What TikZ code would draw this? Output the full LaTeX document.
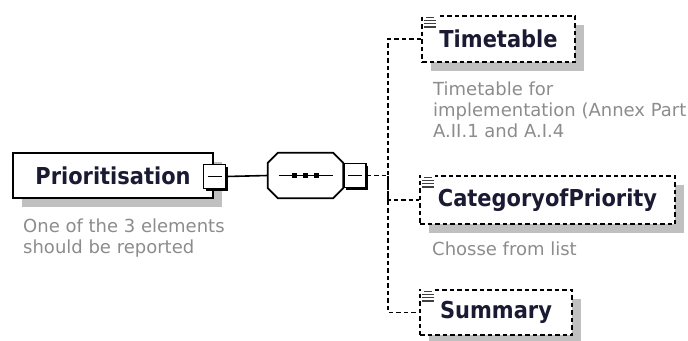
\documentclass[tikz,border=0pt]{standalone}
\usepackage{fontspec}
\setmainfont{DejaVu Sans}
\newfontfamily\elemfont{DejaVu Sans}[FakeStretch=0.9]
\newfontfamily\descfam{DejaVu Sans}
\definecolor{txtc}{HTML}{1A1A33}
\definecolor{descc}{HTML}{8C8C8C}
\definecolor{shadc}{HTML}{C0C0C0}
\begin{document}
\begin{tikzpicture}[x=1pt,y=-1pt,
  shadowed/.style={preaction={draw=none,fill=shadc,transform canvas={shift={(9pt,-9pt)}}}},
  elem/.style={shadowed,draw=black,line width=1.8pt,fill=white,inner sep=0pt,
    font=\elemfont\bfseries\fontsize{23.3}{26}\selectfont,text=txtc},
  optelem/.style={elem,dash pattern=on 4.5pt off 3pt},
  minusbox/.style={draw=black,line width=1.8pt,fill=white,inner sep=0pt,
    minimum width=22pt,minimum height=24pt,
    preaction={draw=none,fill=black,transform canvas={shift={(2pt,-2pt)}}},
    path picture={\draw[line width=1.2pt]([xshift=4pt]path picture bounding box.west)--([xshift=-4pt]path picture bounding box.east);}},
  desc/.style={anchor=north west,inner sep=0pt,align=left,
    font=\descfam\fontsize{18}{21}\selectfont,text=descc},
  conn/.style={line width=1.6pt,draw=black},
  dconn/.style={conn,dash pattern=on 4.5pt off 3pt},
  octo/.style={line width=1.8pt,draw=black,fill=white,line join=miter},
]
\useasboundingbox (0,0) rectangle (688,340);

% root element
\node[elem,minimum width=200pt,minimum height=45pt] (prio) at (113,175.5) {Prioritisation};
\node[minusbox] (pm) at (214.5,176.5) {};
\node[desc] (pd) at (23,219) {One of the 3 elements\\should be reported};

% sequence compositor (octagon)
\node[inner sep=0pt,minimum width=75pt,minimum height=45pt] (seq) at (305.5,175.5) {};
\fill[shadc,shift={(9,9)}] ([xshift=10pt]seq.north west) -- ([xshift=-10pt]seq.north east)
  -- ([yshift=-10pt]seq.north east) -- ([yshift=10pt]seq.south east)
  -- ([xshift=-10pt]seq.south east) -- ([xshift=10pt]seq.south west)
  -- ([yshift=10pt]seq.south west) -- ([yshift=-10pt]seq.north west) -- cycle;
\draw[octo] ([xshift=10pt]seq.north west) -- ([xshift=-10pt]seq.north east)
  -- ([yshift=-10pt]seq.north east) -- ([yshift=10pt]seq.south east)
  -- ([xshift=-10pt]seq.south east) -- ([xshift=10pt]seq.south west)
  -- ([yshift=10pt]seq.south west) -- ([yshift=-10pt]seq.north west) -- cycle;
\draw[line width=1.4pt] ([xshift=-27pt]seq.center) -- ([xshift=27pt]seq.center);
\foreach \dx in {-11,0,11}
  \fill ([xshift=\dx pt]seq.center) ++(-2.8,-2.8) rectangle ++(5.6,5.6);
\node[minusbox] (sm) at (355,175.5) {};

% children
\node[optelem,minimum width=153pt,minimum height=46pt] (tt) at (498.5,39) {Timetable};
\node[desc] (ttd) at (433,82) {Timetable for\\implementation (Annex Part\\A.II.1 and A.I.4};
\node[optelem,minimum width=255pt,minimum height=48pt] (cat) at (547.5,200) {CategoryofPriority};
\node[desc] (catd) at (432,242) {Chosse from list};
\node[optelem,minimum width=152pt,minimum height=45pt] (sum) at (496,312.5) {Summary};

% icons
\foreach \n in {tt,cat,sum}{
  \fill[white] ([shift={(1.5,-1)}]\n.north west) rectangle ++(14,15);
  \draw[line width=1.2pt,black!75] ([shift={(5,2)}]\n.north west) -- ++(8,0);
  \foreach \k in {1,2,3}
    \draw[line width=1.2pt,black!75] ([shift={(3,2+3.3*\k)}]\n.north west) -- ++(12,0);
}

% connectors
\coordinate (J) at (388,175.5);
\draw[conn] (pm.east) -- (seq.west);
\draw[dconn] (sm.east) -- (J);
\draw[dconn] (tt.west) -| (J) |- (sum.west);
\draw[dconn] (J) |- (cat.west);
\end{tikzpicture}
\end{document}
